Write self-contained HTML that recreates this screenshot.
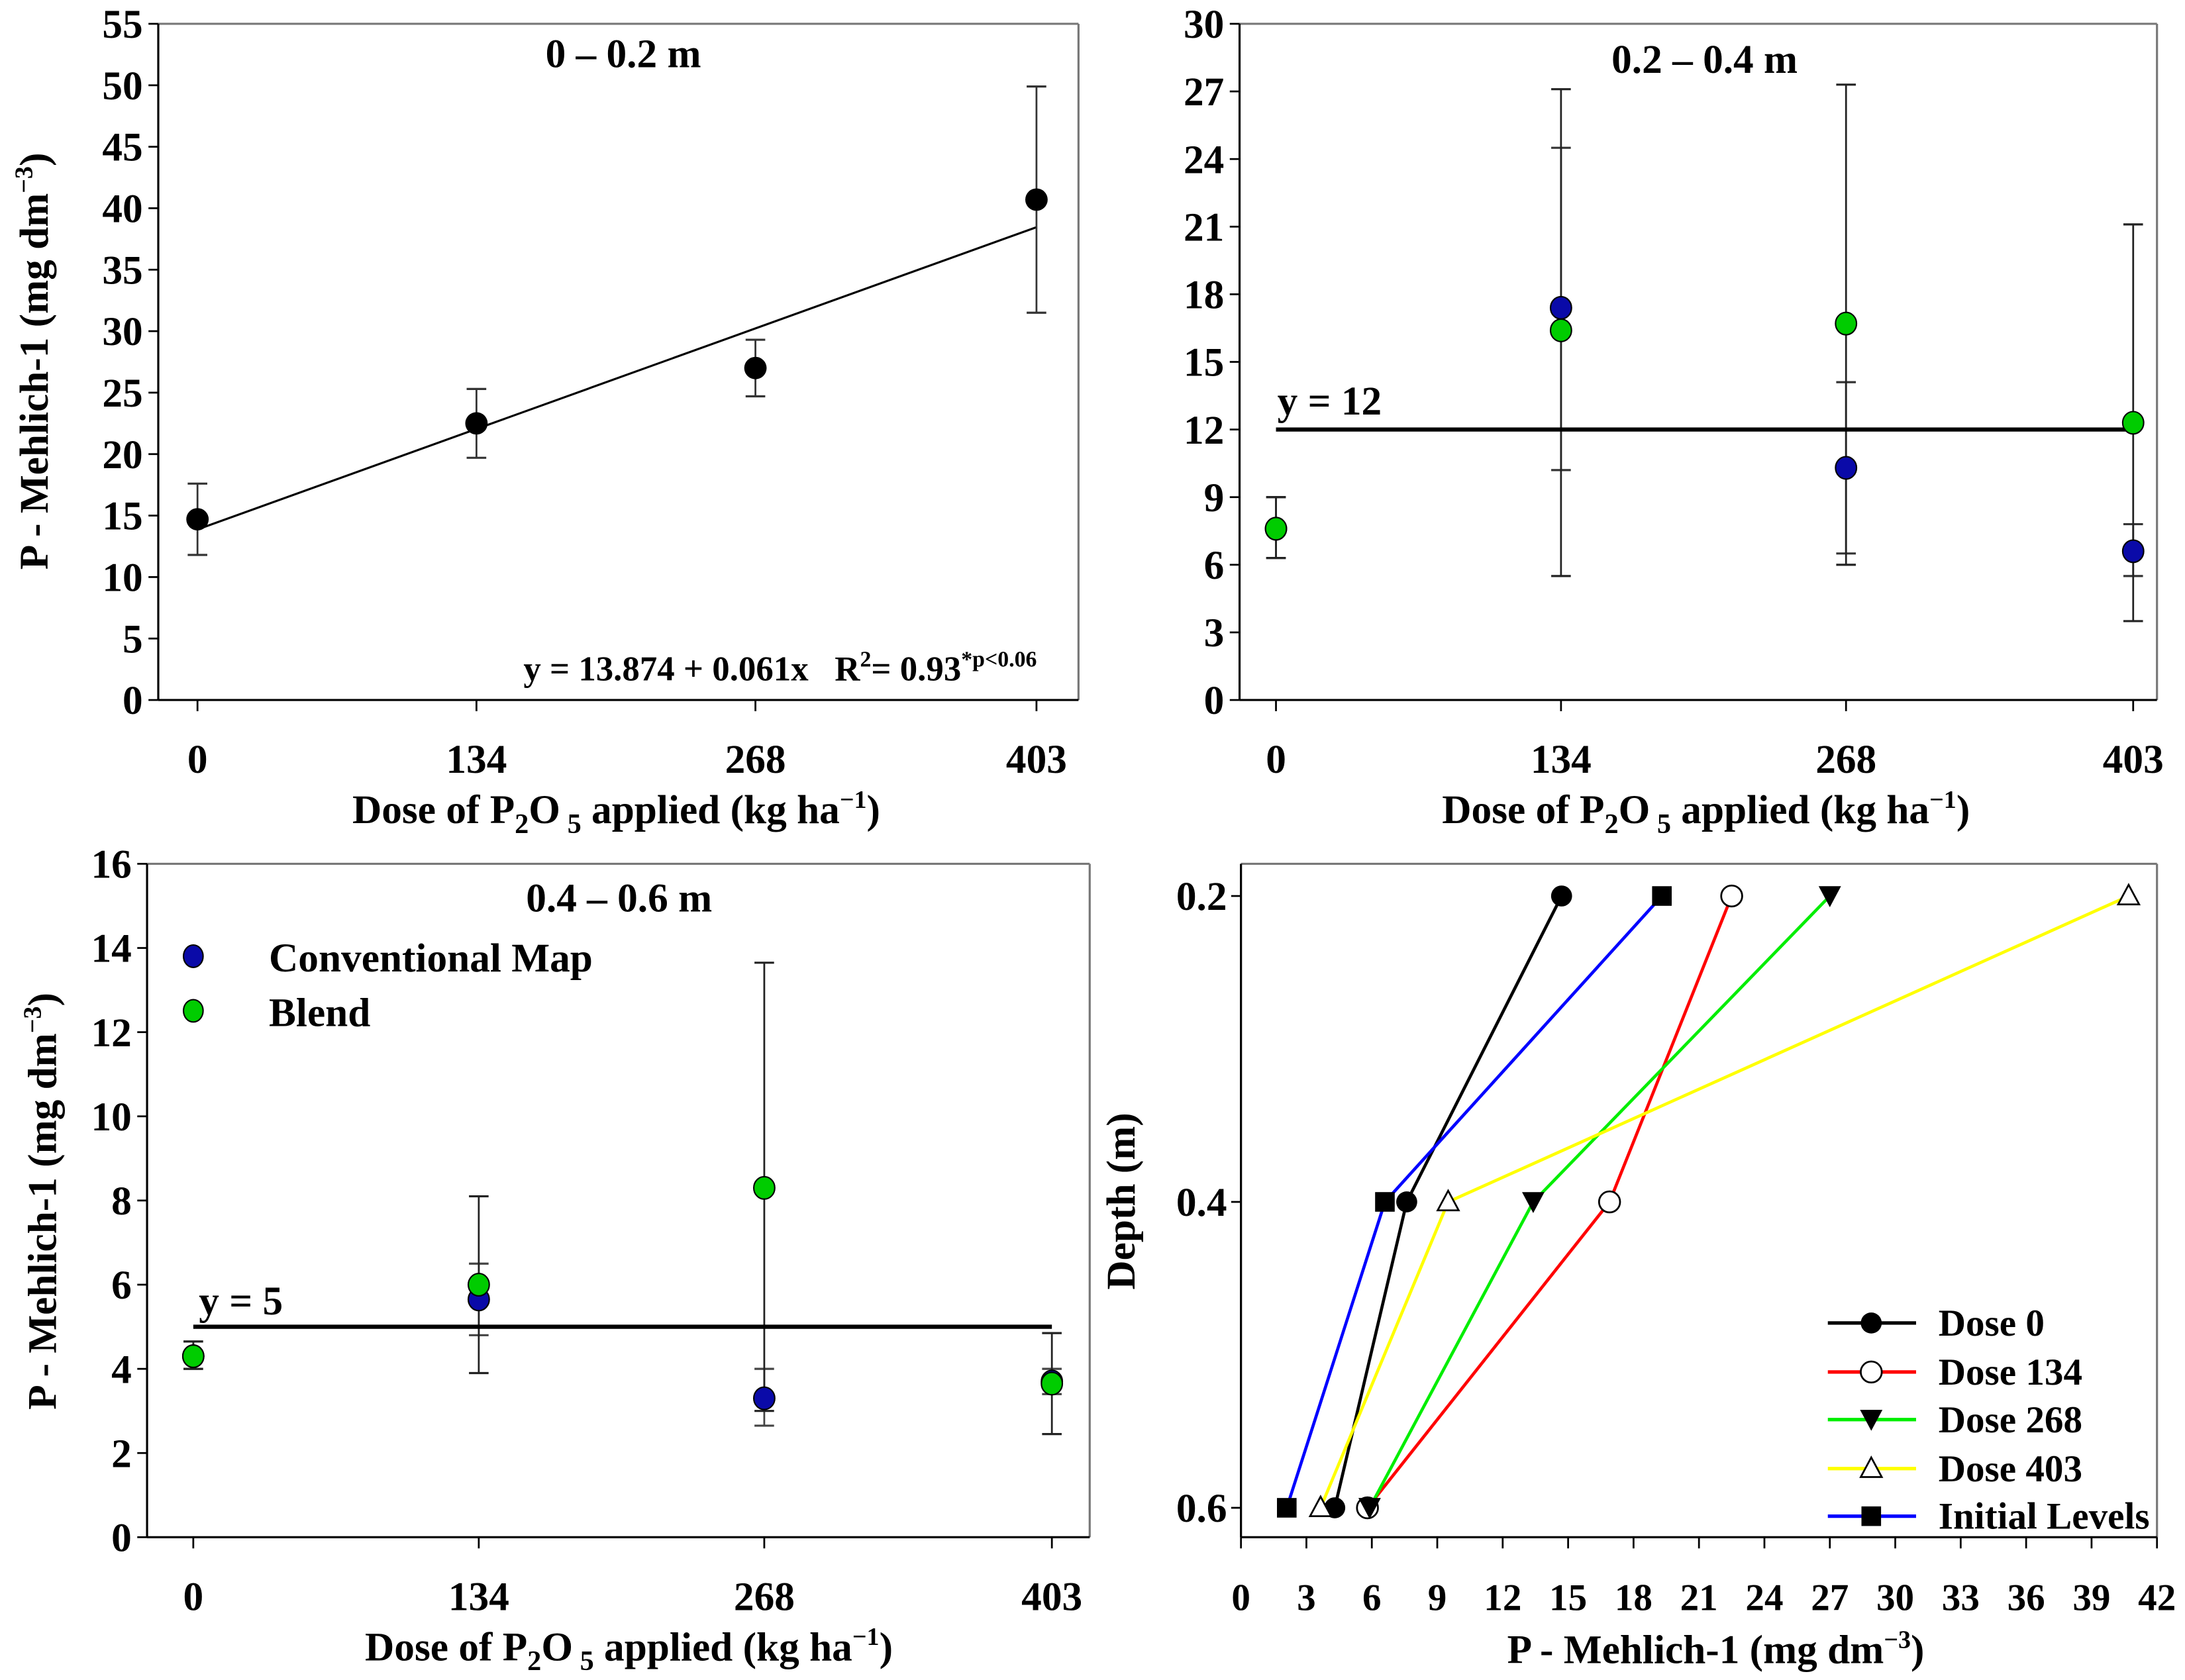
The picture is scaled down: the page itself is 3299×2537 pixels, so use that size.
<!DOCTYPE html>
<html><head><meta charset="utf-8"><style>
html,body{margin:0;padding:0;background:#fff;}
svg{display:block;}
text{font-family:"Liberation Serif",serif;font-weight:bold;fill:#000;}
</style></head><body>
<svg id="fig" width="3299" height="2537" viewBox="0 0 1560 1200" preserveAspectRatio="none" xmlns="http://www.w3.org/2000/svg"></svg>
<script>
// ---- Data ----
const doses = [0, 134, 268, 403];
const doseLabels = ["0", "134", "268", "403"];
// Panel 1 (0-0.2 m)
const p1Mean = [14.7, 22.5, 27.0, 40.7];
const p1Lo = [11.8, 19.7, 24.7, 31.5];
const p1Hi = [17.6, 25.3, 29.3, 49.9];
const p1Intercept = 13.874;
const p1Slope = 0.061;
const p1Ticks = [0,5,10,15,20,25,30,35,40,45,50,55];
// Panel 2 (0.2-0.4 m)
const p2BlueMean = [7.6, 17.4, 10.3, 6.6];
const p2BlueLo = [6.3, 10.2, 6.5, 5.5];
const p2BlueHi = [9.0, 24.5, 14.1, 7.8];
const p2GreenMean = [7.6, 16.4, 16.7, 12.3];
const p2GreenLo = [6.3, 5.5, 6.0, 3.5];
const p2GreenHi = [9.0, 27.1, 27.3, 21.1];
const p2Ref = 12;
const p2Ticks = [0,3,6,9,12,15,18,21,24,27,30];
// Panel 3 (0.4-0.6 m)
const p3BlueMean = [4.3, 5.65, 3.3, 3.7];
const p3BlueLo = [4.0, 4.8, 2.65, 3.4];
const p3BlueHi = [4.65, 6.5, 4.0, 4.0];
const p3GreenMean = [4.3, 6.0, 8.3, 3.65];
const p3GreenLo = [4.0, 3.9, 3.0, 2.45];
const p3GreenHi = [4.65, 8.1, 13.65, 4.85];
const p3Ref = 5;
const p3Ticks = [0,2,4,6,8,10,12,14,16];
// Panel 4 (depth profile)
const depths = [0.2, 0.4, 0.6];
const depthLabels = ["0.2", "0.4", "0.6"];
const dose0 = [14.7, 7.6, 4.3];
const dose134 = [22.5, 16.9, 5.8];
const dose268 = [27.0, 13.4, 5.9];
const dose403 = [40.7, 9.5, 3.65];
const initialLevels = [19.3, 6.6, 2.1];
const p4Ticks = [0,3,6,9,12,15,18,21,24,27,30,33,36,39,42];

const NS = "http://www.w3.org/2000/svg";
const svg = document.getElementById('fig');
const FS = 29;
function el(tag, attrs, parent, txt){
  const e = document.createElementNS(NS, tag);
  for (const k in attrs) e.setAttribute(k, attrs[k]);
  if (txt !== undefined) e.textContent = txt;
  (parent || svg).appendChild(e);
  return e;
}
function lin(d0,d1,r0,r1){return v=>r0+(v-d0)*(r1-r0)/(d1-d0);}

function frame(g, L, R, T, B){
  el('line',{x1:L,y1:T,x2:R,y2:T,stroke:'#777','stroke-width':1.5},g);
  el('line',{x1:R,y1:T,x2:R,y2:B,stroke:'#777','stroke-width':1.5},g);
  el('line',{x1:L,y1:T,x2:L,y2:B,stroke:'#000','stroke-width':1.5},g);
  el('line',{x1:L,y1:B,x2:R,y2:B,stroke:'#000','stroke-width':1.5},g);
}
function yAxis(g, L, ticks, ys, labels){
  ticks.forEach((t,i)=>{
    el('line',{x1:L-7,y1:ys(t),x2:L,y2:ys(t),stroke:'#000','stroke-width':1.3},g);
    const tx = el('text',{x:L-11,y:ys(t)+10,'font-size':FS,'text-anchor':'end'},g,labels?labels[i]:String(t));
    
    
  });
}
function xDoseAxis(g, B, xs, ty){
  doses.forEach((d,i)=>{
    el('line',{x1:xs(d),y1:B,x2:xs(d),y2:B+8,stroke:'#000','stroke-width':1.3},g);
    const tx = el('text',{x:xs(d),y:ty,'font-size':FS,'text-anchor':'middle'},g,doseLabels[i]);
    
    
  });
}
function xTitle(g, cx, y){
  const t = el('text',{x:cx,y:y,'font-size':FS,'text-anchor':'middle'},g);
  
  
  t.innerHTML = 'Dose of P<tspan font-size="20" dy="7">2</tspan><tspan dy="-7">O</tspan><tspan font-size="20" dy="7"> 5</tspan><tspan dy="-7"> applied (kg ha</tspan><tspan font-size="18" dy="-11">−1</tspan><tspan dy="11">)</tspan>';
}
function yTitle(g, x, cy, html){
  const t = el('text',{x:0,y:0,'font-size':FS,'text-anchor':'middle',transform:`translate(${x},${cy}) rotate(-90)`},g);
  
  
  t.innerHTML = html;
}
function errBar(g, x, lo, hi, color){
  el('line',{x1:x,y1:lo,x2:x,y2:hi,stroke:color,'stroke-width':1.3},g);
  el('line',{x1:x-7,y1:lo,x2:x+7,y2:lo,stroke:color,'stroke-width':1.5},g);
  el('line',{x1:x-7,y1:hi,x2:x+7,y2:hi,stroke:color,'stroke-width':1.5},g);
}
const PTITLE = 'P - Mehlich-1 (mg dm<tspan font-size="18" dy="-11">−3</tspan><tspan dy="11">)</tspan>';

// ===== Panel 1 =====
(function(){
  const g = el('g',{});  
  const L=113,R=770,T=17,B=500;
  const xs = lin(0,403,141,740), ys = lin(0,55,B,T);
  frame(g,L,R,T,B);
  yAxis(g,L,p1Ticks,ys);
  xDoseAxis(g,B,xs,552);
  xTitle(g,440,588);
  yTitle(g,34,258,PTITLE);
  const t = el('text',{x:445,y:48,'font-size':FS,'text-anchor':'middle'},g,'0 – 0.2 m');
   
  const rl = el('line',{x1:xs(0),y1:ys(p1Intercept),x2:xs(403),y2:ys(p1Intercept+p1Slope*403),stroke:'#000','stroke-width':1.5},g);
   
  doses.forEach((d,i)=>{
    errBar(g,xs(d),ys(p1Lo[i]),ys(p1Hi[i]),'#333');
    const c = el('ellipse',{cx:xs(d),cy:ys(p1Mean[i]),rx:8,ry:8,fill:'#000'},g);
     
  });
  const eq = el('text',{x:557,y:486,'font-size':25,'text-anchor':'middle'},g);
   
  eq.innerHTML = 'y = 13.874 + 0.061x &#160;&#160;R<tspan font-size="16" dy="-10">2</tspan><tspan dy="10">= 0.93</tspan><tspan font-size="16" dy="-10">*p&lt;0.06</tspan>';
})();

// ===== Panel 2 =====
(function(){
  const g = el('g',{});  
  const L=885,R=1540,T=17,B=500;
  const xs = lin(0,403,911,1523), ys = lin(0,30,B,T);
  frame(g,L,R,T,B);
  yAxis(g,L,p2Ticks,ys);
  xDoseAxis(g,B,xs,552);
  xTitle(g,1218,588);
  const t = el('text',{x:1217,y:52,'font-size':FS,'text-anchor':'middle'},g,'0.2 – 0.4 m');
   
  doses.forEach((d,i)=>{
    errBar(g,xs(d),ys(p2BlueLo[i]),ys(p2BlueHi[i]),'#333');
    errBar(g,xs(d),ys(p2GreenLo[i]),ys(p2GreenHi[i]),'#222');
  });
  const rl = el('line',{x1:xs(0),y1:ys(p2Ref),x2:xs(403),y2:ys(p2Ref),stroke:'#000','stroke-width':3},g);
   
  const lt = el('text',{x:912,y:296,'font-size':FS},g,'y = 12');
   
  doses.forEach((d,i)=>{
    const b = el('ellipse',{cx:xs(d),cy:ys(p2BlueMean[i]),rx:7.5,ry:8,fill:'#0a0aa8',stroke:'#000','stroke-width':1},g);
     
    const c = el('ellipse',{cx:xs(d),cy:ys(p2GreenMean[i]),rx:7.5,ry:8,fill:'#0c0',stroke:'#000','stroke-width':1},g);
     
  });
})();

// ===== Panel 3 =====
(function(){
  const g = el('g',{});  
  const L=105,R=778,T=617,B=1098;
  const xs = lin(0,403,138,751), ys = lin(0,16,B,T);
  frame(g,L,R,T,B);
  yAxis(g,L,p3Ticks,ys);
  xDoseAxis(g,B,xs,1150);
  xTitle(g,449,1186);
  yTitle(g,40,858,PTITLE);
  const t = el('text',{x:442,y:651,'font-size':FS,'text-anchor':'middle'},g,'0.4 – 0.6 m');
   
  doses.forEach((d,i)=>{
    errBar(g,xs(d),ys(p3BlueLo[i]),ys(p3BlueHi[i]),'#444');
    errBar(g,xs(d),ys(p3GreenLo[i]),ys(p3GreenHi[i]),'#222');
  });
  const rl = el('line',{x1:xs(0),y1:ys(p3Ref),x2:xs(403),y2:ys(p3Ref),stroke:'#000','stroke-width':3},g);
   
  const lt = el('text',{x:142,y:939,'font-size':FS},g,'y = 5');
   
  doses.forEach((d,i)=>{
    const b = el('ellipse',{cx:xs(d),cy:ys(p3BlueMean[i]),rx:7.5,ry:8,fill:'#0a0aa8',stroke:'#000','stroke-width':1},g);
     
    const c = el('ellipse',{cx:xs(d),cy:ys(p3GreenMean[i]),rx:7.5,ry:8,fill:'#0c0',stroke:'#000','stroke-width':1},g);
     
  });
  const lg = el('g',{},g);  
  const e1 = el('ellipse',{cx:138,cy:683,rx:7,ry:8,fill:'#0a0aa8',stroke:'#000','stroke-width':1},lg);
   
  const t1 = el('text',{x:192,y:694,'font-size':FS},lg,'Conventional Map');
   
  const e2 = el('ellipse',{cx:138,cy:722,rx:7,ry:8,fill:'#0c0',stroke:'#000','stroke-width':1},lg);
   
  const t2 = el('text',{x:192,y:733,'font-size':FS},lg,'Blend');
   
})();

// ===== Panel 4 =====
(function(){
  const g = el('g',{});  
  const L=886,R=1540,T=617,B=1098;
  const xs = lin(0,42,L,R), ys = lin(0.2,0.6,640,1077);
  frame(g,L,R,T,B);
  depths.forEach((d,i)=>{
    el('line',{x1:L-7,y1:ys(d),x2:L,y2:ys(d),stroke:'#000','stroke-width':1.3},g);
    const tx = el('text',{x:L-10,y:ys(d)+10,'font-size':FS,'text-anchor':'end'},g,depthLabels[i]);
     
  });
  p4Ticks.forEach(t=>{
    el('line',{x1:xs(t),y1:B,x2:xs(t),y2:B+8,stroke:'#000','stroke-width':1.3},g);
    const tx = el('text',{x:xs(t),y:1150,'font-size':27,'text-anchor':'middle'},g,String(t));
     
  });
  yTitle(g,810,858,'Depth (m)');
  const xt = el('text',{x:1225,y:1188,'font-size':FS,'text-anchor':'middle'},g);
   
  xt.innerHTML = 'P - Mehlich-1 (mg dm<tspan font-size="18" dy="-11">−3</tspan><tspan dy="11">)</tspan>';

  function marker(parent, type, x, y){
    let m;
    if (type==='fcircle') m = el('circle',{cx:x,cy:y,r:7.5,fill:'#000'},parent);
    else if (type==='ocircle') m = el('circle',{cx:x,cy:y,r:7.5,fill:'#fff',stroke:'#000','stroke-width':1.3},parent);
    else if (type==='dtri') m = el('polygon',{points:`${x-8},${y-7} ${x+8},${y-7} ${x},${y+8}`,fill:'#000'},parent);
    else if (type==='utri') m = el('polygon',{points:`${x-7.5},${y+6} ${x+7.5},${y+6} ${x},${y-8}`,fill:'#fff',stroke:'#000','stroke-width':1.3},parent);
    else m = el('rect',{x:x-7,y:y-7,width:14,height:14,fill:'#000'},parent);
    return m;
  }
  const series = [
    {name:'dose-0', vals:dose0, color:'#000', m:'fcircle', label:'Dose 0'},
    {name:'dose-134', vals:dose134, color:'#f00', m:'ocircle', label:'Dose 134'},
    {name:'dose-268', vals:dose268, color:'#0e0', m:'dtri', label:'Dose 268'},
    {name:'dose-403', vals:dose403, color:'#ff0', m:'utri', label:'Dose 403'},
    {name:'initial-levels', vals:initialLevels, color:'#00f', m:'square', label:'Initial Levels'}
  ];
  series.forEach(s=>{
    const pts = s.vals.map((v,i)=>xs(v)+','+ys(depths[i])).join(' ');
    const pl = el('polyline',{points:pts,fill:'none',stroke:s.color,'stroke-width':2.2},g);
     
  });
  series.forEach(s=>{
    s.vals.forEach((v,i)=>{
      const m = marker(g,s.m,xs(v),ys(depths[i]));
       
    });
  });
  const lg = el('g',{},g);  
  const rowY = [945,980,1014,1049,1083];
  series.forEach((s,i)=>{
    const y = rowY[i];
    el('line',{x1:1305,y1:y,x2:1368,y2:y,stroke:s.color,'stroke-width':2.5},lg);
    marker(lg,s.m,1336,y);
    const tx = el('text',{x:1384,y:y+9,'font-size':27},lg,s.label);
     
  });
})();
</script>
</body></html>
